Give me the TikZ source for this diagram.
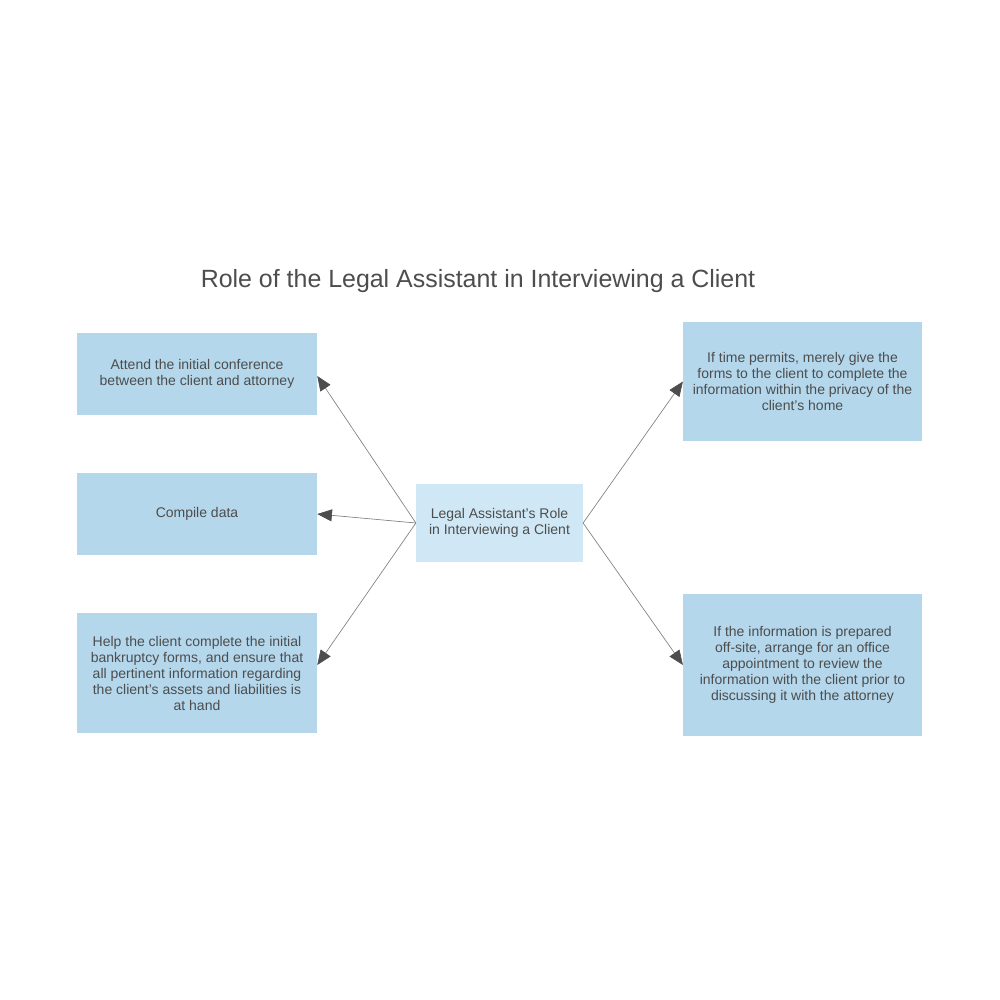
\documentclass[tikz,border=0pt]{standalone}
\usepackage{fontspec}
\setmainfont{Liberation Sans}
\usetikzlibrary{positioning,arrows.meta}

\definecolor{boxblue}{HTML}{B4D7EC}
\definecolor{hubblue}{HTML}{D0E8F5}
\definecolor{txtgray}{HTML}{4D4D4D}
\definecolor{linegray}{HTML}{808080}

\begin{document}
\begin{tikzpicture}[
  x=0.75pt, y=-0.75pt, font=\fontsize{10.5}{12}\selectfont, text=txtgray,
  box/.style={fill=#1, align=center, inner sep=0pt, minimum width=180pt},
  box/.default=boxblue,
  arr/.style={draw=linegray, line width=0.5pt,
    -{Triangle[length=11pt, width=9pt, color=txtgray, fill=txtgray]}}]
  \useasboundingbox (0,0) rectangle (1000,1000);

  \node[font=\fontsize{18.7}{22}\selectfont] (title) at (478,281)
    {Role of the Legal Assistant in Interviewing a Client};

  % hub
  \node[box=hubblue, minimum width=125pt, minimum height=58.5pt] (hub) at (499.5,523)
    {Legal Assistant's Role\\in Interviewing a Client};

  % left column
  \node[box, minimum height=61.5pt] (attend) at (197,374)
    {Attend the initial conference\\between the client and attorney};
  \node[box, minimum height=61.5pt] (compile) at (197,514) {Compile data};
  \node[box, minimum height=90pt] (help) at (197,673)
    {Help the client complete the initial\\bankruptcy forms, and ensure that\\all pertinent information regarding\\the client's assets and liabilities is\\at hand};

  % right column
  \node[box, minimum width=179pt, minimum height=89pt] (forms) at (802.5,381.5)
    {If time permits, merely give the\\forms to the client to complete the\\information within the privacy of the\\client's home};
  \node[box, minimum width=179pt, minimum height=106.5pt] (offsite) at (802.5,665)
    {If the information is prepared\\off-site, arrange for an office\\appointment to review the\\information with the client prior to\\discussing it with the attorney};

  \draw[arr] (hub.west) -- ([yshift=-1.5pt]attend.east);
  \draw[arr] (hub.west) -- (compile.east);
  \draw[arr] (hub.west) -- ([yshift=6pt]help.east);
  \draw[arr] (hub.east) -- (forms.west);
  \draw[arr] (hub.east) -- (offsite.west);
\end{tikzpicture}
\end{document}
